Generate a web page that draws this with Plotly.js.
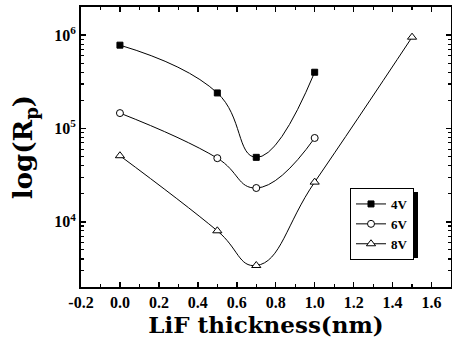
<!DOCTYPE html>
<html>
<head>
<meta charset="utf-8">
<script src="https://cdn.plot.ly/plotly-3.0.1.min.js"></script>
<style>html,body{margin:0;padding:0;background:#fff;}#chart{width:452px;height:350px;}</style>
</head>
<body>
<div id="chart"></div>
<script>
const thickness = [0.0, 0.5, 0.7, 1.0];
const thickness8 = [0.0, 0.5, 0.7, 1.0, 1.5];
const rp4V = [7.8e5, 2.4e5, 4.9e4, 4.0e5];
const rp6V = [1.46e5, 4.8e4, 2.3e4, 7.9e4];
const rp8V = [5.1e4, 8.0e3, 3.4e3, 2.66e4, 9.5e5];
const seriesNames = ['4V', '6V', '8V'];
const xTickVals = [-0.2, 0.0, 0.2, 0.4, 0.6, 0.8, 1.0, 1.2, 1.4, 1.6];
const xTickText = ['-0.2', '0.0', '0.2', '0.4', '0.6', '0.8', '1.0', '1.2', '1.4', '1.6'];
const yTickVals = [1e4, 1e5, 1e6];
const yTickText = ['10<sup>4</sup>', '10<sup>5</sup>', '10<sup>6</sup>'];

const serif = 'Liberation Serif, Times New Roman, serif';
const wideSerif = 'DejaVu Serif, Liberation Serif, serif';
const lineStyle = {color: '#000', width: 1, shape: 'spline', smoothing: 1.3};
const b = s => '<b>' + s + '</b>';

const traces = [
  {x: thickness, y: rp4V, name: b(seriesNames[0]), mode: 'lines+markers', line: lineStyle,
   marker: {symbol: 'square', size: 6, color: '#000', line: {color: '#000', width: 1}}},
  {x: thickness, y: rp6V, name: b(seriesNames[1]), mode: 'lines+markers', line: lineStyle,
   marker: {symbol: 'circle', size: 7, color: '#fff', line: {color: '#000', width: 1}}},
  {x: thickness8, y: rp8V, name: b(seriesNames[2]), mode: 'lines+markers', line: lineStyle,
   marker: {symbol: 'triangle-up', size: 8, color: '#fff', line: {color: '#000', width: 1}}}
];

const L = 81, R = 1, T = 7, B = 63, W = 452, H = 350;
const pw = W - L - R, ph = H - T - B;
function px(xp) { return (xp - L) / pw; }
function py(yp) { return 1 - (yp - T) / ph; }

const layout = {
  width: W, height: H,
  margin: {l: L, r: R, t: T, b: B, pad: 0},
  paper_bgcolor: '#fff', plot_bgcolor: '#fff',
  showlegend: true,
  font: {family: serif, color: '#000'},
  xaxis: {
    range: [-0.2, 1.7], tickvals: xTickVals, ticktext: xTickText.map(b),
    ticks: 'inside', ticklen: 5, tickwidth: 1.5, tickcolor: '#000',
    minor: {dtick: 0.1, ticks: 'inside', ticklen: 3, tickwidth: 1.2, tickcolor: '#000', showgrid: false},
    showline: true, linecolor: '#000', linewidth: 2, mirror: 'ticks',
    showgrid: false, zeroline: false,
    tickfont: {family: serif, size: 16, color: '#000', weight: 'bold'},
    title: {text: b('LiF thickness(nm)'), font: {family: wideSerif, size: 23, color: '#000'}, standoff: 3}
  },
  yaxis: {
    type: 'log', range: [Math.log10(2000), Math.log10(2e6)],
    tickvals: yTickVals, ticktext: yTickText.map(b),
    ticks: 'inside', ticklen: 5, tickwidth: 1.5, tickcolor: '#000',
    minor: {dtick: 'D1', ticks: 'inside', ticklen: 3, tickwidth: 1.2, tickcolor: '#000', showgrid: false},
    showline: true, linecolor: '#000', linewidth: 2, mirror: 'ticks',
    showgrid: false, zeroline: false,
    tickfont: {family: serif, size: 16, color: '#000', weight: 'bold'},
    title: {text: b('log(R<sub>p</sub>)'), font: {family: wideSerif, size: 26, color: '#000'}, standoff: 14}
  },
  legend: {
    x: px(414), y: py(188), xanchor: 'right', yanchor: 'top',
    bgcolor: '#fff', bordercolor: '#000', borderwidth: 1,
    font: {family: serif, size: 13, color: '#000'},
    itemwidth: 30, tracegroupgap: 0
  },
  shapes: [
    {type: 'rect', xref: 'paper', yref: 'paper', layer: 'above',
     x0: px(355), x1: px(418), y0: py(258), y1: py(192),
     fillcolor: '#000', line: {width: 0}}
  ]
};

Plotly.newPlot('chart', traces, layout, {displayModeBar: false, staticPlot: true});
</script>
</body>
</html>
